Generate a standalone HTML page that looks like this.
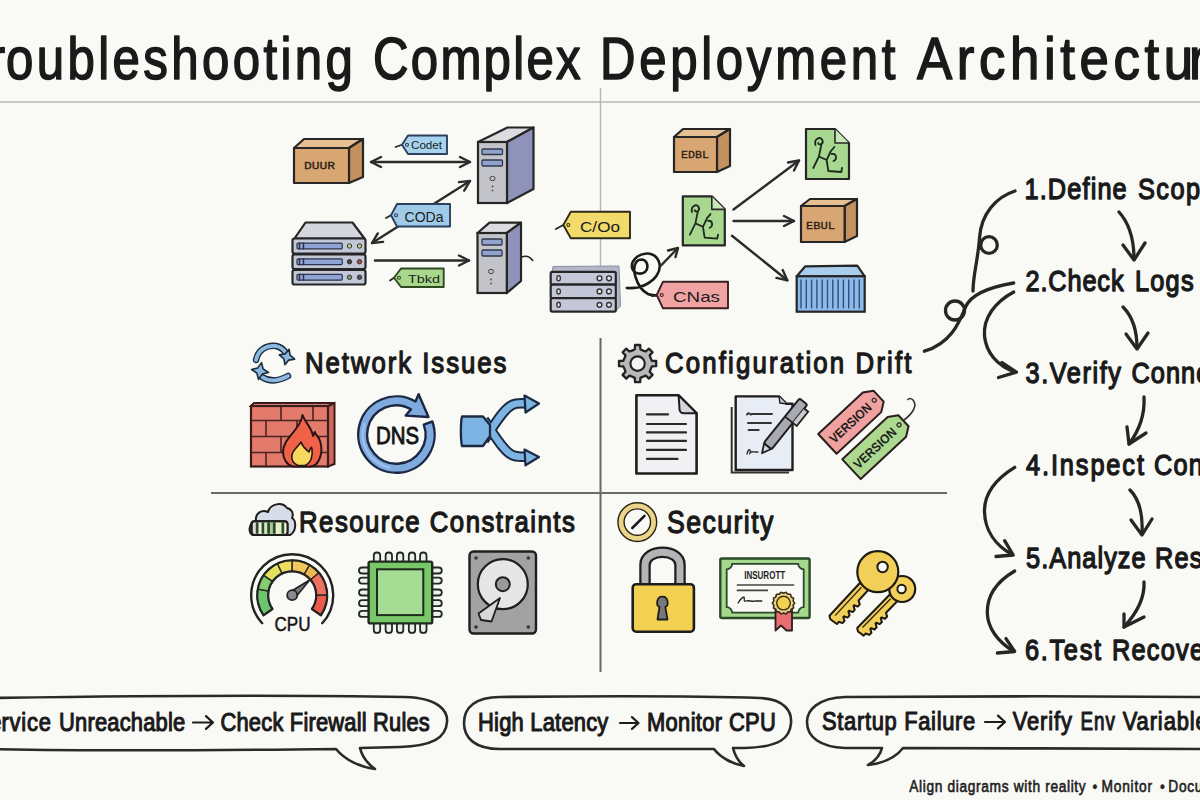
<!DOCTYPE html>
<html><head><meta charset="utf-8"><style>
html,body{margin:0;padding:0;background:#f9f9f6;}
svg{display:block;font-family:"Liberation Sans", sans-serif;}
</style></head><body>
<svg width="1200" height="800" viewBox="0 0 1200 800">
<rect width="1200" height="800" fill="#f9f9f6"/>
<line x1="0" y1="102" x2="1200" y2="102" stroke="#b9b9b6" stroke-width="1.6"/>
<line x1="600.5" y1="88" x2="600.5" y2="270" stroke="#b4b4b2" stroke-width="1.4"/>
<line x1="600.5" y1="338" x2="600.5" y2="672" stroke="#666" stroke-width="2"/>
<line x1="211" y1="493" x2="947" y2="493" stroke="#6a6a6a" stroke-width="2"/>
<text id="ft0" class="ft" transform="translate(-43.00,79) scale(0.82,1)" x="0" y="0" font-size="60" fill="#1a1a1a" textLength="58.76" lengthAdjust="spacing" stroke="#1a1a1a" stroke-width="1.6" stroke-linejoin="round">Tr</text>
<text id="ft1" class="ft" transform="translate(6.00,79) scale(0.82,1)" x="0" y="0" font-size="60" fill="#1a1a1a" textLength="423.01" lengthAdjust="spacing" stroke="#1a1a1a" stroke-width="1.6" stroke-linejoin="round">oubleshooting</text>
<text id="ft2" class="ft" transform="translate(373.00,79) scale(0.82,1)" x="0" y="0" font-size="60" fill="#1a1a1a" textLength="253.22" lengthAdjust="spacing" stroke="#1a1a1a" stroke-width="1.6" stroke-linejoin="round">Complex</text>
<text id="ft3" class="ft" transform="translate(600.00,79) scale(0.82,1)" x="0" y="0" font-size="60" fill="#1a1a1a" textLength="360.37" lengthAdjust="spacing" stroke="#1a1a1a" stroke-width="1.6" stroke-linejoin="round">Deployment</text>
<text id="ft4" class="ft" transform="translate(917.00,79) scale(0.88,1)" x="0" y="0" font-size="60" fill="#1a1a1a" textLength="313.90" lengthAdjust="spacing" stroke="#1a1a1a" stroke-width="1.6" stroke-linejoin="round">Architectu</text>
<text id="ft5" class="ft" transform="translate(1189.00,79) scale(0.88,1)" x="0" y="0" font-size="60" fill="#1a1a1a" textLength="53.68" lengthAdjust="spacing" stroke="#1a1a1a" stroke-width="1.6" stroke-linejoin="round">re</text>
<text id="ft6" class="ft" transform="translate(305.00,373) scale(0.86,1)" x="0" y="0" font-size="30" fill="#1a1a1a" textLength="234.19" lengthAdjust="spacing" stroke="#1a1a1a" stroke-width="1.3" stroke-linejoin="round">Network Issues</text>
<text id="ft7" class="ft" transform="translate(665.00,372.6) scale(0.86,1)" x="0" y="0" font-size="30" fill="#1a1a1a" textLength="286.61" lengthAdjust="spacing" stroke="#1a1a1a" stroke-width="1.3" stroke-linejoin="round">Configuration Drift</text>
<text id="ft8" class="ft" transform="translate(299.00,532) scale(0.86,1)" x="0" y="0" font-size="30" fill="#1a1a1a" textLength="320.74" lengthAdjust="spacing" stroke="#1a1a1a" stroke-width="1.3" stroke-linejoin="round">Resource Constraints</text>
<text id="ft9" class="ft" transform="translate(667.00,532.5) scale(0.86,1)" x="0" y="0" font-size="31" fill="#1a1a1a" textLength="123.71" lengthAdjust="spacing" stroke="#1a1a1a" stroke-width="1.3" stroke-linejoin="round">Security</text>
<text id="ft10" class="ft" transform="translate(1024.50,199) scale(0.86,1)" x="0" y="0" font-size="29.5" fill="#1a1a1a" textLength="118.86" lengthAdjust="spacing" stroke="#1a1a1a" stroke-width="1.35" stroke-linejoin="round">1.Define</text>
<text id="ft11" class="ft" transform="translate(1138.00,199) scale(0.86,1)" x="0" y="0" font-size="29.5" fill="#1a1a1a" textLength="90.31" lengthAdjust="spacing" stroke="#1a1a1a" stroke-width="1.35" stroke-linejoin="round">Scope</text>
<text id="ft12" class="ft" transform="translate(1025.50,291) scale(0.86,1)" x="0" y="0" font-size="29.5" fill="#1a1a1a" textLength="114.04" lengthAdjust="spacing" stroke="#1a1a1a" stroke-width="1.35" stroke-linejoin="round">2.Check</text>
<text id="ft13" class="ft" transform="translate(1135.00,291) scale(0.86,1)" x="0" y="0" font-size="29.5" fill="#1a1a1a" textLength="68.13" lengthAdjust="spacing" stroke="#1a1a1a" stroke-width="1.35" stroke-linejoin="round">Logs</text>
<text id="ft14" class="ft" transform="translate(1025.50,383) scale(0.86,1)" x="0" y="0" font-size="29.5" fill="#1a1a1a" textLength="111.10" lengthAdjust="spacing" stroke="#1a1a1a" stroke-width="1.35" stroke-linejoin="round">3.Verify</text>
<text id="ft15" class="ft" transform="translate(1131.50,383) scale(0.86,1)" x="0" y="0" font-size="29.5" fill="#1a1a1a" textLength="173.47" lengthAdjust="spacing" stroke="#1a1a1a" stroke-width="1.35" stroke-linejoin="round">Connectivity</text>
<text id="ft16" class="ft" transform="translate(1026.00,475) scale(0.86,1)" x="0" y="0" font-size="29.5" fill="#1a1a1a" textLength="137.15" lengthAdjust="spacing" stroke="#1a1a1a" stroke-width="1.35" stroke-linejoin="round">4.Inspect</text>
<text id="ft17" class="ft" transform="translate(1154.00,475) scale(0.86,1)" x="0" y="0" font-size="29.5" fill="#1a1a1a" textLength="107.98" lengthAdjust="spacing" stroke="#1a1a1a" stroke-width="1.35" stroke-linejoin="round">Configs</text>
<text id="ft18" class="ft" transform="translate(1026.00,567.6) scale(0.86,1)" x="0" y="0" font-size="29.5" fill="#1a1a1a" textLength="139.17" lengthAdjust="spacing" stroke="#1a1a1a" stroke-width="1.35" stroke-linejoin="round">5.Analyze</text>
<text id="ft19" class="ft" transform="translate(1155.00,567.6) scale(0.86,1)" x="0" y="0" font-size="29.5" fill="#1a1a1a" textLength="152.22" lengthAdjust="spacing" stroke="#1a1a1a" stroke-width="1.35" stroke-linejoin="round">Resources</text>
<text id="ft20" class="ft" transform="translate(1025.00,660) scale(0.86,1)" x="0" y="0" font-size="29.5" fill="#1a1a1a" textLength="88.46" lengthAdjust="spacing" stroke="#1a1a1a" stroke-width="1.35" stroke-linejoin="round">6.Test</text>
<text id="ft21" class="ft" transform="translate(1112.00,660) scale(0.86,1)" x="0" y="0" font-size="29.5" fill="#1a1a1a" textLength="134.51" lengthAdjust="spacing" stroke="#1a1a1a" stroke-width="1.35" stroke-linejoin="round">Recovery</text>
<text id="ft22" class="ft" transform="translate(-27.40,730.5) scale(0.86,1)" x="0" y="0" font-size="25.5" fill="#1a1a1a" textLength="33.67" lengthAdjust="spacing" stroke="#1a1a1a" stroke-width="1.1" stroke-linejoin="round">Se</text>
<text id="ft23" class="ft" transform="translate(1.40,730.5) scale(0.86,1)" x="0" y="0" font-size="25.5" fill="#1a1a1a" textLength="57.65" lengthAdjust="spacing" stroke="#1a1a1a" stroke-width="1.1" stroke-linejoin="round">rvice</text>
<text id="ft24" class="ft" transform="translate(59.00,730.5) scale(0.86,1)" x="0" y="0" font-size="25.5" fill="#1a1a1a" textLength="146.76" lengthAdjust="spacing" stroke="#1a1a1a" stroke-width="1.1" stroke-linejoin="round">Unreachable</text>
<text id="ft25" class="ft" transform="translate(220.50,730.5) scale(0.86,1)" x="0" y="0" font-size="25.5" fill="#1a1a1a" textLength="243.36" lengthAdjust="spacing" stroke="#1a1a1a" stroke-width="1.1" stroke-linejoin="round">Check Firewall Rules</text>
<text id="ft26" class="ft" transform="translate(478.00,731) scale(0.86,1)" x="0" y="0" font-size="25.5" fill="#1a1a1a" textLength="151.57" lengthAdjust="spacing" stroke="#1a1a1a" stroke-width="1.1" stroke-linejoin="round">High Latency</text>
<text id="ft27" class="ft" transform="translate(647.00,731) scale(0.86,1)" x="0" y="0" font-size="25.5" fill="#1a1a1a" textLength="149.85" lengthAdjust="spacing" stroke="#1a1a1a" stroke-width="1.1" stroke-linejoin="round">Monitor CPU</text>
<text id="ft28" class="ft" transform="translate(822.00,730) scale(0.86,1)" x="0" y="0" font-size="25.5" fill="#1a1a1a" textLength="178.18" lengthAdjust="spacing" stroke="#1a1a1a" stroke-width="1.1" stroke-linejoin="round">Startup Failure</text>
<text id="ft29" class="ft" transform="translate(1012.70,730) scale(0.86,1)" x="0" y="0" font-size="25.5" fill="#1a1a1a" textLength="68.83" lengthAdjust="spacing" stroke="#1a1a1a" stroke-width="1.1" stroke-linejoin="round">Verify</text>
<text id="ft30" class="ft" transform="translate(1080.50,730) scale(0.74,1)" x="0" y="0" font-size="25.5" fill="#1a1a1a" textLength="46.60" lengthAdjust="spacing" stroke="#1a1a1a" stroke-width="1.1" stroke-linejoin="round">Env</text>
<text id="ft31" class="ft" transform="translate(1122.70,730) scale(0.86,1)" x="0" y="0" font-size="25.5" fill="#1a1a1a" textLength="112.71" lengthAdjust="spacing" stroke="#1a1a1a" stroke-width="1.1" stroke-linejoin="round">Variables</text>
<text id="ft32" class="ft" transform="translate(909.25,792) scale(0.86,1)" x="0" y="0" font-size="16" fill="#222" textLength="205.17" lengthAdjust="spacing" stroke="#222" stroke-width="0.6" stroke-linejoin="round">Align diagrams with reality</text>
<text id="ft33" class="ft" transform="translate(1092.50,792) scale(0.86,1)" x="0" y="0" font-size="16" fill="#222" textLength="-6.63" lengthAdjust="spacing" stroke="#222" stroke-width="0.4" stroke-linejoin="round">•</text>
<text id="ft34" class="ft" transform="translate(1101.50,792) scale(0.86,1)" x="0" y="0" font-size="16" fill="#222" textLength="58.74" lengthAdjust="spacing" stroke="#222" stroke-width="0.6" stroke-linejoin="round">Monitor</text>
<text id="ft35" class="ft" transform="translate(1160.00,792) scale(0.86,1)" x="0" y="0" font-size="16" fill="#222" textLength="-8.95" lengthAdjust="spacing" stroke="#222" stroke-width="0.4" stroke-linejoin="round">•</text>
<text id="ft36" class="ft" transform="translate(1168.25,792) scale(0.86,1)" x="0" y="0" font-size="16" fill="#222" textLength="78.67" lengthAdjust="spacing" stroke="#222" stroke-width="0.6" stroke-linejoin="round">Document</text>
<path d="M-10 698 C120 696 300 695 405 697 C440 698 448 712 447 722 C446 738 432 746 400 747 L360 748 C362 756 368 764 375 769 C360 767 345 760 336 749 C250 750 80 751 -10 749" stroke="#2a2a2a" stroke-width="2.6" fill="none" stroke-linejoin="round" stroke-linecap="round"/>
<path d="M500 697 C600 696 700 696 760 698 C785 699 792 712 791 723 C790 738 780 747 745 748 L733 748 C735 756 739 762 744 766 C732 764 720 757 714 749 L500 749 C475 749 464 738 464 723 C464 707 476 697 500 697 Z" stroke="#2a2a2a" stroke-width="2.6" fill="none" stroke-linejoin="round" stroke-linecap="round"/>
<path d="M1210 697 C1100 696 950 696 845 697 C818 698 807 710 807 722 C807 737 820 747 845 748 L882 748 C880 756 875 761 868 765 C885 763 896 757 903 748 C1000 748 1120 749 1210 749" stroke="#2a2a2a" stroke-width="2.6" fill="none" stroke-linejoin="round" stroke-linecap="round"/>
<path d="M193 722.5 L213 722.5 M205.96 716.1 L213 722.5 L205.96 728.9" stroke="#1c1c1c" stroke-width="2.2" fill="none" stroke-linecap="round" stroke-linejoin="round"/>
<path d="M620 723 L638.5 723 M631.988 717.08 L638.5 723 L631.988 728.92" stroke="#1c1c1c" stroke-width="2.2" fill="none" stroke-linecap="round" stroke-linejoin="round"/>
<path d="M985 722 L1005 722 M997.96 715.6 L1005 722 L997.96 728.4" stroke="#1c1c1c" stroke-width="2.2" fill="none" stroke-linecap="round" stroke-linejoin="round"/>
<path d="M1119 212 C1128 222 1134 238 1134 259" stroke="#262626" stroke-width="3.3" fill="none" stroke-linecap="round" stroke-linejoin="round"/>
<path d="M1123 245 L1134 260 L1145 243" stroke="#262626" stroke-width="3.3" fill="none" stroke-linecap="round" stroke-linejoin="round"/>
<path d="M1123 307 C1132 316 1137 330 1137 348" stroke="#262626" stroke-width="3.3" fill="none" stroke-linecap="round" stroke-linejoin="round"/>
<path d="M1126 334 L1137 349 L1148 333" stroke="#262626" stroke-width="3.3" fill="none" stroke-linecap="round" stroke-linejoin="round"/>
<path d="M1144 397 C1145 415 1138 432 1129 444" stroke="#262626" stroke-width="3.3" fill="none" stroke-linecap="round" stroke-linejoin="round"/>
<path d="M1127 427 L1129 444 L1146 433" stroke="#262626" stroke-width="3.3" fill="none" stroke-linecap="round" stroke-linejoin="round"/>
<path d="M1130 490 C1140 500 1143 515 1142 534" stroke="#262626" stroke-width="3.3" fill="none" stroke-linecap="round" stroke-linejoin="round"/>
<path d="M1131 520 L1142 535 L1152 519" stroke="#262626" stroke-width="3.3" fill="none" stroke-linecap="round" stroke-linejoin="round"/>
<path d="M1144 582 C1145 600 1135 615 1124 627" stroke="#262626" stroke-width="3.3" fill="none" stroke-linecap="round" stroke-linejoin="round"/>
<path d="M1124 614 L1124 627 L1144 617" stroke="#262626" stroke-width="3.3" fill="none" stroke-linecap="round" stroke-linejoin="round"/>
<path d="M1015 191 C996 197 981 214 979.5 238 C978 260 973 275 973 291" stroke="#262626" stroke-width="3.3" fill="none" stroke-linecap="round" stroke-linejoin="round"/>
<circle cx="989" cy="245" r="8.3" stroke="#262626" stroke-width="3.3" fill="none" stroke-linecap="round" stroke-linejoin="round"/>
<path d="M1013.7 283 C990 287 971 294 965.5 307 C959 323 951 343 924.4 351.2" stroke="#262626" stroke-width="3.3" fill="none" stroke-linecap="round" stroke-linejoin="round"/>
<circle cx="955" cy="310.5" r="9.5" stroke="#262626" stroke-width="3.3" fill="none" stroke-linecap="round" stroke-linejoin="round"/>
<path d="M1013.7 292 C995 302 983 318 984.5 336 C986 352 997 366 1015 372" stroke="#262626" stroke-width="3.3" fill="none" stroke-linecap="round" stroke-linejoin="round"/>
<path d="M1002 362.5 L1016.4 372.2 L998.5 377.5" stroke="#262626" stroke-width="3.3" fill="none" stroke-linecap="round" stroke-linejoin="round"/>
<path d="M1014.7 467.3 C994 480 984 495 984.5 512 C985 530 995 545 1012 554.5" stroke="#262626" stroke-width="3.3" fill="none" stroke-linecap="round" stroke-linejoin="round"/>
<path d="M1004.6 540.7 L1013.2 555 L996 556.5" stroke="#262626" stroke-width="3.3" fill="none" stroke-linecap="round" stroke-linejoin="round"/>
<path d="M1014.7 571 C996 582 987 596 987.3 612.7 C987.6 628 998 642 1013.5 651" stroke="#262626" stroke-width="3.3" fill="none" stroke-linecap="round" stroke-linejoin="round"/>
<path d="M1006 638.6 L1014.7 651.5 L997.4 653" stroke="#262626" stroke-width="3.3" fill="none" stroke-linecap="round" stroke-linejoin="round"/>
<polygon points="294,148 304,139 363,139 349,148" fill="#e6bf92" stroke="#262626" stroke-width="2.2" stroke-linejoin="round"/>
<polygon points="349,148 363,139 363,177 349,183" fill="#c4915f" stroke="#262626" stroke-width="2.2" stroke-linejoin="round"/>
<rect x="294" y="148" width="55" height="35" fill="#d8a672" stroke="#262626" stroke-width="2.2" stroke-linejoin="round"/>
<text x="304" y="169" font-size="11" fill="#2a2018" textLength="31" lengthAdjust="spacingAndGlyphs" font-family="Liberation Mono" stroke="#2a2018" stroke-width="0.3">DUUR</text>
<path d="M371 162 L470 162" stroke="#2b2b2b" stroke-width="2.4" fill="none" stroke-linecap="round" stroke-linejoin="round"/>
<path d="M460.0 167.0 L470 162 L460.0 157.0" stroke="#2b2b2b" stroke-width="2.4" fill="none" stroke-linecap="round" stroke-linejoin="round"/>
<path d="M381.0 167.0 L371 162 L381.0 157.0" stroke="#2b2b2b" stroke-width="2.4" fill="none" stroke-linecap="round" stroke-linejoin="round"/>
<path d="M402 144.75 L395.5 147" stroke="#262626" stroke-width="1.8" fill="none" stroke-linecap="round"/>
<path d="M408 135.5 L447 135.5 L447 154 L408 154 L402 144.75 Z" fill="#a6d3ee" stroke="#2d3f5c" stroke-width="1.9" stroke-linejoin="round"/>
<circle cx="407" cy="144.75" r="1.5" fill="none" stroke="#2d3f5c" stroke-width="1.1"/>
<text x="411" y="149" font-size="11" fill="#1c1c22" textLength="31" lengthAdjust="spacingAndGlyphs" font-family="Liberation Sans">Codet</text>
<polygon points="478,142 507.5,127.5 533.5,127.5 507,142" fill="#dcdce0" stroke="#262626" stroke-width="2.2" stroke-linejoin="round"/>
<polygon points="507,142 533.5,127.5 533.5,189 507,203" fill="#8f93ba" stroke="#262626" stroke-width="2.2" stroke-linejoin="round"/>
<rect x="478" y="142" width="29" height="61" fill="#c3c4ca" stroke="#262626" stroke-width="2.2"/>
<rect x="482" y="149" width="20.5" height="5.5" rx="1" fill="#8fa3cc" stroke="#33384a" stroke-width="1.3"/>
<rect x="482" y="160" width="20.5" height="6" rx="1" fill="#8fa3cc" stroke="#33384a" stroke-width="1.3"/>
<ellipse cx="492.5" cy="178.5" rx="2.6" ry="2.2" fill="#bfc0c6" stroke="#444" stroke-width="1"/>
<circle cx="492.5" cy="186.5" r="1" fill="#555"/><circle cx="492.5" cy="190.5" r="0.9" fill="#555"/>
<path d="M372 243 L470 181" stroke="#2b2b2b" stroke-width="2.4" fill="none" stroke-linecap="round" stroke-linejoin="round"/>
<path d="M464.2 190.6 L470 181 L458.9 182.1" stroke="#2b2b2b" stroke-width="2.4" fill="none" stroke-linecap="round" stroke-linejoin="round"/>
<path d="M383.1 241.9 L372 243 L377.8 233.4" stroke="#2b2b2b" stroke-width="2.4" fill="none" stroke-linecap="round" stroke-linejoin="round"/>
<polygon points="294.5,238.5 305.5,222.5 352.5,222.5 364.5,238.5" fill="#d5d7df" stroke="#262626" stroke-width="2.2" stroke-linejoin="round"/>
<rect x="292.5" y="238.5" width="73.0" height="15.0" rx="2" fill="#c3c8d8" stroke="#262626" stroke-width="2.2"/>
<rect x="297.0" y="243.2" width="45.26" height="5.6" rx="1" fill="#8ea4d6" stroke="#2e3248" stroke-width="1.2"/>
<line x1="299.5" y1="242.5" x2="299.5" y2="249.5" stroke="#2e3248" stroke-width="1.5"/><line x1="303.5" y1="242.5" x2="303.5" y2="249.5" stroke="#2e3248" stroke-width="1.5"/>
<circle cx="359.5" cy="246.0" r="2.2" fill="#b9d07a" stroke="#333" stroke-width="1"/>
<circle cx="349.5" cy="246.0" r="2.2" fill="#b9d07a" stroke="#333" stroke-width="1"/>
<rect x="292.5" y="254.5" width="73.0" height="14.5" rx="2" fill="#c3c8d8" stroke="#262626" stroke-width="2.2"/>
<rect x="297.0" y="258.95" width="45.26" height="5.6" rx="1" fill="#8ea4d6" stroke="#2e3248" stroke-width="1.2"/>
<line x1="299.5" y1="258.25" x2="299.5" y2="265.25" stroke="#2e3248" stroke-width="1.5"/><line x1="303.5" y1="258.25" x2="303.5" y2="265.25" stroke="#2e3248" stroke-width="1.5"/>
<circle cx="359.5" cy="261.75" r="2.2" fill="#b04a3a" stroke="#333" stroke-width="1"/>
<circle cx="349.5" cy="261.75" r="2.2" fill="#444" stroke="#333" stroke-width="1"/>
<rect x="292.5" y="270" width="73.0" height="14.5" rx="2" fill="#c3c8d8" stroke="#262626" stroke-width="2.2"/>
<rect x="297.0" y="274.45" width="45.26" height="5.6" rx="1" fill="#8ea4d6" stroke="#2e3248" stroke-width="1.2"/>
<line x1="299.5" y1="273.75" x2="299.5" y2="280.75" stroke="#2e3248" stroke-width="1.5"/><line x1="303.5" y1="273.75" x2="303.5" y2="280.75" stroke="#2e3248" stroke-width="1.5"/>
<circle cx="359.5" cy="277.25" r="2.2" fill="#555" stroke="#333" stroke-width="1"/>
<circle cx="349.5" cy="277.25" r="2.2" fill="#7a9a7a" stroke="#333" stroke-width="1"/>
<path d="M391 215.25 L386 218" stroke="#262626" stroke-width="1.8" fill="none" stroke-linecap="round"/>
<path d="M397 204 L450 204 L450 226.5 L397 226.5 L391 215.25 Z" fill="#9fcbe8" stroke="#2d3f5c" stroke-width="1.9" stroke-linejoin="round"/>
<circle cx="396" cy="215.25" r="1.5" fill="none" stroke="#2d3f5c" stroke-width="1.1"/>
<text x="404.5" y="221.5" font-size="14" fill="#1c1c22" textLength="39" lengthAdjust="spacingAndGlyphs" font-family="Liberation Sans">CODa</text>
<path d="M375 260.5 L469 260.5" stroke="#2b2b2b" stroke-width="2.4" fill="none" stroke-linecap="round" stroke-linejoin="round"/>
<path d="M459.0 265.5 L469 260.5 L459.0 255.5" stroke="#2b2b2b" stroke-width="2.4" fill="none" stroke-linecap="round" stroke-linejoin="round"/>
<path d="M394 277.75 L390 280.5" stroke="#262626" stroke-width="1.8" fill="none" stroke-linecap="round"/>
<path d="M401 268.5 L443.7 268.5 L443.7 287 L401 287 L394 277.75 Z" fill="#a9d78c" stroke="#2d4a22" stroke-width="1.9" stroke-linejoin="round"/>
<circle cx="399" cy="277.75" r="1.5" fill="none" stroke="#2d4a22" stroke-width="1.1"/>
<text x="408" y="283" font-size="11.5" fill="#1c1c22" textLength="32" lengthAdjust="spacingAndGlyphs" font-family="Liberation Sans">Tbkd</text>
<polygon points="477.5,233 489.5,222.7 521,222.7 506.8,233" fill="#dcdce0" stroke="#262626" stroke-width="2.2" stroke-linejoin="round"/>
<polygon points="506.8,233 521,222.7 521,281 506.8,293" fill="#8f93ba" stroke="#262626" stroke-width="2.2" stroke-linejoin="round"/>
<rect x="477.5" y="233" width="29.30000000000001" height="60" fill="#c3c4ca" stroke="#262626" stroke-width="2.2"/>
<rect x="482" y="239" width="20" height="6" rx="1" fill="#8fa3cc" stroke="#33384a" stroke-width="1.3"/>
<rect x="482" y="250" width="20" height="6" rx="1" fill="#8fa3cc" stroke="#33384a" stroke-width="1.3"/>
<ellipse cx="491" cy="271.5" rx="2.6" ry="2.2" fill="#bfc0c6" stroke="#444" stroke-width="1"/>
<circle cx="491" cy="279.5" r="1" fill="#555"/><circle cx="491" cy="283.5" r="0.9" fill="#555"/>
<path d="M521.7 257 C527 255 531 258 533 261" stroke="#262626" stroke-width="1.6" fill="none"/>
<path d="M563.3 225.0 L555.8 229" stroke="#262626" stroke-width="1.8" fill="none" stroke-linecap="round"/>
<path d="M570.8 211.7 L630 211.7 L630 238.3 L570.8 238.3 L563.3 225.0 Z" fill="#f2db6a" stroke="#2d2a18" stroke-width="1.9" stroke-linejoin="round"/>
<circle cx="568.3" cy="225.0" r="1.5" fill="none" stroke="#2d2a18" stroke-width="1.1"/>
<text x="580" y="231.5" font-size="15" fill="#1c1c22" textLength="40" lengthAdjust="spacingAndGlyphs" font-family="Liberation Sans">C/Oo</text>
<path d="M552 272 L553 266.5 L619 266 L620.5 306 L615.8 311" fill="#b3b7c8" stroke="#8a8ea0" stroke-width="1"/>
<rect x="550.7" y="271.9" width="65.1" height="12.800000000000011" rx="1.5" fill="#c4c7d8" stroke="#262626" stroke-width="2.2"/>
<ellipse cx="558.6" cy="278.29999999999995" rx="1.8" ry="2.6" fill="#ddd" stroke="#333" stroke-width="1.3"/>
<circle cx="599.5" cy="278.29999999999995" r="2.4" fill="#e6e6e6" stroke="#333" stroke-width="1.4"/>
<circle cx="609" cy="278.29999999999995" r="2.4" fill="#e6e6e6" stroke="#333" stroke-width="1.4"/>
<rect x="550.7" y="284.7" width="65.1" height="13.400000000000034" rx="1.5" fill="#c4c7d8" stroke="#262626" stroke-width="2.2"/>
<ellipse cx="558.6" cy="291.4" rx="1.8" ry="2.6" fill="#ddd" stroke="#333" stroke-width="1.3"/>
<circle cx="599.5" cy="291.4" r="2.4" fill="#e6e6e6" stroke="#333" stroke-width="1.4"/>
<circle cx="609" cy="291.4" r="2.4" fill="#e6e6e6" stroke="#333" stroke-width="1.4"/>
<rect x="550.7" y="298.1" width="65.1" height="13.5" rx="1.5" fill="#c4c7d8" stroke="#262626" stroke-width="2.2"/>
<ellipse cx="558.6" cy="304.85" rx="1.8" ry="2.6" fill="#ddd" stroke="#333" stroke-width="1.3"/>
<circle cx="599.5" cy="304.85" r="2.4" fill="#e6e6e6" stroke="#333" stroke-width="1.4"/>
<circle cx="609" cy="304.85" r="2.4" fill="#e6e6e6" stroke="#333" stroke-width="1.4"/>
<path d="M626.8 288 C633 288.5 640 287.5 646 284.5 C655 280 661 272 659.5 264 C658 256 651 252.5 645 253.8 C637 255 631 261 632 267.5 C633 273 640 275.5 645 272 C649 268.5 648 260 641.5 259.5 C635 259.5 632.5 268 635.5 277 C638 285 642 291 648 294 C653 296 659 295.5 664 295.2" stroke="#1a1a1a" stroke-width="2.6" fill="none" stroke-linecap="round" stroke-linejoin="round"/>
<path d="M660.5 266 L677.5 248.5" stroke="#2b2b2b" stroke-width="2.4" fill="none" stroke-linecap="round" stroke-linejoin="round"/><path d="M668 250.5 L678 248 L675.5 257" stroke="#2b2b2b" stroke-width="2.4" fill="none" stroke-linecap="round" stroke-linejoin="round"/>
<path d="M656.7 295.0 L652 296" stroke="#262626" stroke-width="1.8" fill="none" stroke-linecap="round"/>
<path d="M663 281.7 L728 281.7 L728 308.3 L663 308.3 L656.7 295.0 Z" fill="#f1a3a3" stroke="#3a2020" stroke-width="1.9" stroke-linejoin="round"/>
<circle cx="661.7" cy="295.0" r="1.5" fill="none" stroke="#3a2020" stroke-width="1.1"/>
<text x="673" y="301.5" font-size="15" fill="#1c1c22" textLength="47" lengthAdjust="spacingAndGlyphs" font-family="Liberation Sans">CNas</text>
<path d="M682.8 196.4 L711.8 196.4 L724.8 209.4 L724.8 245.4 L682.8 245.4 Z" fill="#a8d88f" stroke="#262626" stroke-width="2.2" stroke-linejoin="round"/>
<path d="M711.8 196.4 L711.8 209.4 L724.8 209.4" fill="#c9e8b8" stroke="#262626" stroke-width="1.6" stroke-linejoin="round"/>
<path d="M692.04 212.08 C690.3599999999999 206.20000000000002 696.24 203.26000000000002 698.76 207.18 C700.4399999999999 211.1 695.4 213.06 694.56 210.12 M697.92 211.1 L695.4 223.35000000000002 L689.9399999999999 234.62 M695.4 223.35000000000002 L702.9599999999999 226.78 L707.16 217.96 L710.52 214.04000000000002 M702.9599999999999 226.78 L704.64 237.56 L717.24 238.54000000000002 L718.0799999999999 234.62 M708.0 220.9 C712.1999999999999 219.92000000000002 713.88 225.8 709.68 227.76" stroke="#1e2a1e" stroke-width="1.8" fill="none" stroke-linecap="round" stroke-linejoin="round"/>
<polygon points="674,137 683,129 730,129 717,137" fill="#e6bf92" stroke="#262626" stroke-width="2.2" stroke-linejoin="round"/>
<polygon points="717,137 730,129 730,166 717,172" fill="#c4915f" stroke="#262626" stroke-width="2.2" stroke-linejoin="round"/>
<rect x="674" y="137" width="43" height="35" fill="#d8a672" stroke="#262626" stroke-width="2.2" stroke-linejoin="round"/>
<text x="681" y="158" font-size="11" fill="#2a2018" textLength="28" lengthAdjust="spacingAndGlyphs" font-family="Liberation Mono" stroke="#2a2018" stroke-width="0.3">EDBL</text>
<path d="M733.5 209.5 L799 160.5" stroke="#2b2b2b" stroke-width="2.4" fill="none" stroke-linecap="round" stroke-linejoin="round"/>
<path d="M794.0 170.5 L799 160.5 L788.0 162.5" stroke="#2b2b2b" stroke-width="2.4" fill="none" stroke-linecap="round" stroke-linejoin="round"/>
<path d="M733.5 221 L794 221" stroke="#2b2b2b" stroke-width="2.4" fill="none" stroke-linecap="round" stroke-linejoin="round"/>
<path d="M784.0 226.0 L794 221 L784.0 216.0" stroke="#2b2b2b" stroke-width="2.4" fill="none" stroke-linecap="round" stroke-linejoin="round"/>
<path d="M732 235.7 L787.3 280.3" stroke="#2b2b2b" stroke-width="2.4" fill="none" stroke-linecap="round" stroke-linejoin="round"/>
<path d="M776.4 277.9 L787.3 280.3 L782.7 270.1" stroke="#2b2b2b" stroke-width="2.4" fill="none" stroke-linecap="round" stroke-linejoin="round"/>
<path d="M806 129 L835 129 L849 143 L849 179 L806 179 Z" fill="#a8d88f" stroke="#262626" stroke-width="2.2" stroke-linejoin="round"/>
<path d="M835 129 L835 143 L849 143" fill="#c9e8b8" stroke="#262626" stroke-width="1.6" stroke-linejoin="round"/>
<path d="M815.46 145.0 C813.74 139.0 819.76 136.0 822.34 140.0 C824.06 144.0 818.9 146.0 818.04 143.0 M821.48 144.0 L818.9 156.5 L813.31 168.0 M818.9 156.5 L826.64 160.0 L830.94 151.0 L834.38 147.0 M826.64 160.0 L828.36 171.0 L841.26 172.0 L842.12 168.0 M831.8 154.0 C836.1 153.0 837.82 159.0 833.52 161.0" stroke="#1e2a1e" stroke-width="1.8" fill="none" stroke-linecap="round" stroke-linejoin="round"/>
<polygon points="801,206 810,199 857,199 844.6,206" fill="#e6bf92" stroke="#262626" stroke-width="2.2" stroke-linejoin="round"/>
<polygon points="844.6,206 857,199 857,236 844.6,242" fill="#c4915f" stroke="#262626" stroke-width="2.2" stroke-linejoin="round"/>
<rect x="801" y="206" width="43.60000000000002" height="36" fill="#d8a672" stroke="#262626" stroke-width="2.2" stroke-linejoin="round"/>
<text x="806" y="228.5" font-size="11" fill="#2a2018" textLength="29" lengthAdjust="spacingAndGlyphs" font-family="Liberation Mono" stroke="#2a2018" stroke-width="0.3">EBUL</text>
<polygon points="796.7,276.3 805.3,266.3 857.3,265.7 864.7,276.3" fill="#a9cdec" stroke="#262626" stroke-width="2.2" stroke-linejoin="round"/>
<rect x="796.7" y="276.3" width="68" height="35.4" fill="#8dbae6" stroke="#262626" stroke-width="2.2"/>
<line x1="801.0" y1="279.5" x2="801.0" y2="308.5" stroke="#2d4f86" stroke-width="1.4"/>
<line x1="806.3" y1="279.5" x2="806.3" y2="308.5" stroke="#2d4f86" stroke-width="1.4"/>
<line x1="811.6" y1="279.5" x2="811.6" y2="308.5" stroke="#2d4f86" stroke-width="1.4"/>
<line x1="816.9" y1="279.5" x2="816.9" y2="308.5" stroke="#2d4f86" stroke-width="1.4"/>
<line x1="822.2" y1="279.5" x2="822.2" y2="308.5" stroke="#2d4f86" stroke-width="1.4"/>
<line x1="827.5" y1="279.5" x2="827.5" y2="308.5" stroke="#2d4f86" stroke-width="1.4"/>
<line x1="832.8" y1="279.5" x2="832.8" y2="308.5" stroke="#2d4f86" stroke-width="1.4"/>
<line x1="838.1" y1="279.5" x2="838.1" y2="308.5" stroke="#2d4f86" stroke-width="1.4"/>
<line x1="843.4" y1="279.5" x2="843.4" y2="308.5" stroke="#2d4f86" stroke-width="1.4"/>
<line x1="848.7" y1="279.5" x2="848.7" y2="308.5" stroke="#2d4f86" stroke-width="1.4"/>
<line x1="854.0" y1="279.5" x2="854.0" y2="308.5" stroke="#2d4f86" stroke-width="1.4"/>
<line x1="859.3" y1="279.5" x2="859.3" y2="308.5" stroke="#2d4f86" stroke-width="1.4"/>
<path d="M256 360 C258 350 266 345 276 346 C281 347 284 350 286 353" stroke="#1d2a3c" stroke-width="6.5" fill="none" stroke-linecap="round"/>
<path d="M256 360 C258 350 266 345 276 346 C281 347 284 350 286 353" stroke="#8cb9e2" stroke-width="3.8" fill="none" stroke-linecap="round"/>
<path d="M262 377 C268 381 277 382 288 376" stroke="#1d2a3c" stroke-width="6.5" fill="none" stroke-linecap="round"/>
<path d="M262 377 C268 381 277 382 288 376" stroke="#8cb9e2" stroke-width="3.8" fill="none" stroke-linecap="round"/>
<polygon points="294.7,359.1 288.8,360.1 284.9,364.7 283.9,358.8 279.3,354.9 285.2,353.9 289.1,349.3 290.1,355.2" fill="#8cb9e2" stroke="#1d2a3c" stroke-width="1.6" stroke-linejoin="round"/>
<polygon points="268.4,372.5 262.2,374.1 258.5,379.4 256.9,373.2 251.6,369.5 257.8,367.9 261.5,362.6 263.1,368.8" fill="#8cb9e2" stroke="#1d2a3c" stroke-width="1.6" stroke-linejoin="round"/>
<polygon points="328.0,406.0 334.5,403.0 334.5,464.0 328.0,466.5" fill="#d06a5c" stroke="#3a1c1c" stroke-width="2"/>
<polygon points="251.0,406.0 254.0,403.0 334.5,403.0 328.0,406.0" fill="#e89080" stroke="#3a1c1c" stroke-width="2"/>
<rect x="251" y="406" width="77" height="60.5" fill="#e27b6c" stroke="#3a1c1c" stroke-width="2.2"/>
<line x1="251" y1="420.5" x2="328" y2="420.5" stroke="#4a2222" stroke-width="1.6"/>
<line x1="251" y1="436.5" x2="328" y2="436.5" stroke="#4a2222" stroke-width="1.6"/>
<line x1="251" y1="452.5" x2="328" y2="452.5" stroke="#4a2222" stroke-width="1.6"/>
<line x1="281" y1="406" x2="281" y2="420.5" stroke="#4a2222" stroke-width="1.6"/>
<line x1="313" y1="406" x2="313" y2="420.5" stroke="#4a2222" stroke-width="1.6"/>
<line x1="266" y1="420.5" x2="266" y2="436.5" stroke="#4a2222" stroke-width="1.6"/>
<line x1="297" y1="420.5" x2="297" y2="436.5" stroke="#4a2222" stroke-width="1.6"/>
<line x1="281" y1="436.5" x2="281" y2="452.5" stroke="#4a2222" stroke-width="1.6"/>
<line x1="313" y1="436.5" x2="313" y2="452.5" stroke="#4a2222" stroke-width="1.6"/>
<line x1="266" y1="452.5" x2="266" y2="466.5" stroke="#4a2222" stroke-width="1.6"/>
<line x1="297" y1="452.5" x2="297" y2="466.5" stroke="#4a2222" stroke-width="1.6"/>
<path d="M302.5 415 C306 424 312 428 313 436 C315 432 315 430 315.5 434 C322 440 323 452 319 460 C317 464 314 466.5 310 466.5 L293 466.5 C287 465 283 459 283 452 C283 443 290 437 295 430 C299 425 302 420 302.5 415 Z" fill="#f06248" stroke="#2a1414" stroke-width="2" stroke-linejoin="round"/>
<path d="M301 442 C303 448 307 450 309 452 C311 447 311 446 312 449 C313 456 311 463 305 465.5 L298 465.5 C293 464 291 459 292 455 C293 450 297 448 301 442 Z" fill="#f6d85c" stroke="#2a1414" stroke-width="1.6" stroke-linejoin="round"/>
<path d="M432.3 421.5 A38.2 38.2 0 1 1 415.5 401.5 L418.6 394.2 L428.5 417 L405.7 415.6 L411.0 409.3 A29.2 29.2 0 1 0 423.8 424.6 Z" fill="#7eaae0" stroke="#1c2742" stroke-width="2.4" stroke-linejoin="round"/>
<path d="M390.5 467.8 A33.7 33.7 0 0 1 364.7 423.1" stroke="#a9c8ee" stroke-width="2.5" fill="none" opacity="0.7"/>
<text x="397.5" y="444.3" font-size="24" text-anchor="middle" fill="#141414" textLength="43" lengthAdjust="spacingAndGlyphs" stroke="#141414" stroke-width="0.9">DNS</text>
<path d="M484 440 C493 428 502 410 512 405 C516 403 520 403 526 403.5" stroke="#1b2a40" stroke-width="10.5" fill="none"/>
<path d="M484 420 C493 432 502 450 512 455 C516 457 520 457 526 456.5" stroke="#1b2a40" stroke-width="10.5" fill="none"/>
<path d="M484 440 C493 428 502 410 512 405 C516 403 520 403 526 403.5" stroke="#7db4e3" stroke-width="6.6" fill="none"/>
<path d="M484 420 C493 432 502 450 512 455 C516 457 520 457 526 456.5" stroke="#7db4e3" stroke-width="6.6" fill="none"/>
<path d="M462 416.5 L483 416.5 L490 425 L490 436 L483 446 L462 446 C460.5 440 460.5 422 462 416.5 Z" fill="#7db4e3" stroke="#1b2a40" stroke-width="2.3" stroke-linejoin="round"/>
<polygon points="524.5,395.5 539.0,403.5 525.5,412.5" fill="#7db4e3" stroke="#1b2a40" stroke-width="2.2" stroke-linejoin="round"/>
<polygon points="524.5,449.5 539.0,457.0 525.5,465.3" fill="#7db4e3" stroke="#1b2a40" stroke-width="2.2" stroke-linejoin="round"/>
<polygon points="633.1,350.1 634.8,349.3 635.0,345.0 640.2,345.0 640.4,349.3 642.1,350.1 643.9,350.9 645.8,351.5 648.9,348.6 652.6,352.3 649.7,355.4 650.3,357.3 651.1,359.1 651.9,360.8 656.2,361.0 656.2,366.2 651.9,366.4 651.1,368.1 650.3,369.9 649.7,371.8 652.6,374.9 648.9,378.6 645.8,375.7 643.9,376.3 642.1,377.1 640.4,377.9 640.2,382.2 635.0,382.2 634.8,377.9 633.1,377.1 631.3,376.3 629.4,375.7 626.3,378.6 622.6,374.9 625.5,371.8 624.9,369.9 624.1,368.1 623.3,366.4 619.0,366.2 619.0,361.0 623.3,360.8 624.1,359.1 624.9,357.3 625.5,355.4 622.6,352.3 626.3,348.6 629.4,351.5 631.3,350.9" fill="#b9b9b9" stroke="#222" stroke-width="2.3" stroke-linejoin="round"/>
<circle cx="637.6" cy="363.6" r="7.2" fill="#f4f4f2" stroke="#222" stroke-width="2.2"/>
<path d="M636.4 395.3 L678.6 395.3 L696.6 413.3 L696.6 473.5 L636.4 473.5 Z" fill="#f1f1f3" stroke="#1e1e1e" stroke-width="2.6" stroke-linejoin="round"/>
<path d="M678.6 395.3 L679.6 410.3 Q680.6 413.3 683.6 413.3 L696.6 413.3 Z" fill="#d3d5de" stroke="#1e1e1e" stroke-width="2" stroke-linejoin="round"/>
<line x1="647" y1="414.4" x2="668" y2="414.4" stroke="#2a2a2a" stroke-width="2.2" stroke-linecap="round"/>
<line x1="647" y1="424" x2="686" y2="424" stroke="#2a2a2a" stroke-width="2.2" stroke-linecap="round"/>
<line x1="647" y1="432.4" x2="686" y2="432.4" stroke="#2a2a2a" stroke-width="2.2" stroke-linecap="round"/>
<line x1="647" y1="440.9" x2="686" y2="440.9" stroke="#2a2a2a" stroke-width="2.2" stroke-linecap="round"/>
<line x1="647" y1="449.9" x2="686" y2="449.9" stroke="#2a2a2a" stroke-width="2.2" stroke-linecap="round"/>
<line x1="647" y1="458.9" x2="677.5" y2="458.9" stroke="#2a2a2a" stroke-width="2.2" stroke-linecap="round"/>
<path d="M731.7 407 L731.7 472.4 L789 472.4" fill="none" stroke="#333" stroke-width="2"/>
<path d="M735.7 396.4 L779 396.4 L786.3 403.7 L792.5 403.7 L792.5 470 L735.7 470 Z" fill="#e8ecf4" stroke="#1e1e1e" stroke-width="2.4" stroke-linejoin="round"/>
<path d="M779 396.4 L780 403 L786.3 403.7" fill="#d0d4de" stroke="#1e1e1e" stroke-width="1.4"/>
<path d="M747 414.4 C749 411 750 416 752 414 L772 414" stroke="#333" stroke-width="2" fill="none" stroke-linecap="round"/>
<line x1="748" y1="423" x2="771" y2="423" stroke="#333" stroke-width="2" stroke-linecap="round"/>
<line x1="748.6" y1="430" x2="758.7" y2="430" stroke="#333" stroke-width="2" stroke-linecap="round"/>
<path d="M747 454 C748 449 751 448 750 453 C752 451 753 452 755 452 L758 452" stroke="#333" stroke-width="1.4" fill="none" stroke-linecap="round"/>
<g transform="translate(762,453.2) rotate(-51.2)">
<path d="M0 0 L9 -4.5 L9 4.5 Z" fill="#d8d8dc" stroke="#1e1e1e" stroke-width="1.8" stroke-linejoin="round"/>
<rect x="9" y="-5" width="57.278856803501014" height="10" rx="2" fill="#a9a9b2" stroke="#1e1e1e" stroke-width="2"/>
<line x1="42.95289121817063" y1="-5" x2="42.95289121817063" y2="5" stroke="#1e1e1e" stroke-width="1.8"/>
<path d="M42.95289121817063 5 L42.95289121817063 10 L61.278856803501014 10 L61.278856803501014 5" fill="#c9c9cf" stroke="#1e1e1e" stroke-width="1.8"/>
</g>
<g transform="translate(853,420) rotate(-43)">
<path d="M-35.0 -13.5 L26.0 -13.5 L35.0 -7.5 L35.0 7.5 L26.0 13.5 L-35.0 13.5 Z" fill="#f1a2a0" stroke="#2a1e1e" stroke-width="2" stroke-linejoin="round"/>
<circle cx="29.0" cy="0" r="2" fill="none" stroke="#333" stroke-width="1.3"/>
<text x="-30.0" y="5" font-size="13" fill="#1e1e1e" textLength="52" lengthAdjust="spacingAndGlyphs" font-weight="bold">VERSION</text>
</g>
<g transform="translate(877.5,445) rotate(-43)">
<path d="M-35.5 -13.5 L26.5 -13.5 L35.5 -7.5 L35.5 7.5 L26.5 13.5 L-35.5 13.5 Z" fill="#acd98f" stroke="#2a1e1e" stroke-width="2" stroke-linejoin="round"/>
<circle cx="29.5" cy="0" r="2" fill="none" stroke="#333" stroke-width="1.3"/>
<text x="-30.5" y="5" font-size="13" fill="#1e1e1e" textLength="53" lengthAdjust="spacingAndGlyphs" font-weight="bold">VERSION</text>
</g>
<path d="M904 420 C912 414 918 406 913 400 C911 398 909 398 907.5 400" stroke="#333" stroke-width="1.6" fill="none"/>
<path d="M253 535 C248 534 248 523 256 521 C255 513 262 509 268 512 C270 504 282 501 287 508 C292 509 294 514 292 518 C297 521 296 532 290 535 Z" fill="#d6dce8" stroke="#1e1e1e" stroke-width="2" stroke-linejoin="round"/>
<rect x="251.5" y="521.3" width="36" height="13.6" rx="3" fill="#cfe3b8" stroke="#1e1e1e" stroke-width="2"/>
<rect x="253.0" y="522.5" width="2.9" height="11.2" fill="#e8d8d8"/>
<rect x="255.8" y="522.5" width="2.9" height="11.2" fill="#2e4a2a"/>
<rect x="258.7" y="522.5" width="2.9" height="11.2" fill="#f0f2e8"/>
<rect x="261.6" y="522.5" width="2.9" height="11.2" fill="#2e4a2a"/>
<rect x="264.4" y="522.5" width="2.9" height="11.2" fill="#cfeac0"/>
<rect x="267.2" y="522.5" width="2.9" height="11.2" fill="#2e4a2a"/>
<rect x="270.1" y="522.5" width="2.9" height="11.2" fill="#a8c898"/>
<rect x="272.9" y="522.5" width="2.9" height="11.2" fill="#2e4a2a"/>
<rect x="275.8" y="522.5" width="2.9" height="11.2" fill="#eef0c8"/>
<rect x="278.6" y="522.5" width="2.9" height="11.2" fill="#e8eec0"/>
<rect x="281.5" y="522.5" width="2.9" height="11.2" fill="#2e4a2a"/>
<rect x="284.4" y="522.5" width="2.9" height="11.2" fill="#f0f0e0"/>
<rect x="251.5" y="521.3" width="36" height="13.6" rx="3" fill="none" stroke="#1e1e1e" stroke-width="2"/>
<path d="M262.2 623.2 A41 41 0 1 1 322.2 623.2" stroke="#222" stroke-width="2.4" fill="none" stroke-linecap="round"/>
<path d="M263.5 615.3 A35 35 0 0 1 257.7 589.1 L268.6 591.0 A24 24 0 0 0 272.5 609.0 Z" fill="#6cc46c" stroke="#2a2a2a" stroke-width="1.4" stroke-linejoin="round"/>
<path d="M257.7 589.1 A35 35 0 0 1 263.5 575.1 L272.5 581.4 A24 24 0 0 0 268.6 591.0 Z" fill="#86cc6c" stroke="#2a2a2a" stroke-width="1.4" stroke-linejoin="round"/>
<path d="M263.5 575.1 A35 35 0 0 1 277.4 563.5 L282.1 573.4 A24 24 0 0 0 272.5 581.4 Z" fill="#e4e060" stroke="#2a2a2a" stroke-width="1.4" stroke-linejoin="round"/>
<path d="M277.4 563.5 A35 35 0 0 1 292.2 560.2 L292.2 571.2 A24 24 0 0 0 282.1 573.4 Z" fill="#f0dc5c" stroke="#2a2a2a" stroke-width="1.4" stroke-linejoin="round"/>
<path d="M292.2 560.2 A35 35 0 0 1 309.7 564.9 L304.2 574.4 A24 24 0 0 0 292.2 571.2 Z" fill="#f4c858" stroke="#2a2a2a" stroke-width="1.4" stroke-linejoin="round"/>
<path d="M309.7 564.9 A35 35 0 0 1 319.0 572.7 L310.6 579.8 A24 24 0 0 0 304.2 574.4 Z" fill="#f0b850" stroke="#2a2a2a" stroke-width="1.4" stroke-linejoin="round"/>
<path d="M319.0 572.7 A35 35 0 0 1 327.2 595.2 L316.2 595.2 A24 24 0 0 0 310.6 579.8 Z" fill="#f07060" stroke="#2a2a2a" stroke-width="1.4" stroke-linejoin="round"/>
<path d="M327.2 595.2 A35 35 0 0 1 320.9 615.3 L311.9 609.0 A24 24 0 0 0 316.2 595.2 Z" fill="#ec5a4a" stroke="#2a2a2a" stroke-width="1.4" stroke-linejoin="round"/>
<path d="M263.5 615.3 A35 35 0 1 1 320.9 615.3 L311.9 609.0 A24 24 0 1 0 272.5 609.0 Z" fill="none" stroke="#222" stroke-width="2.2" stroke-linejoin="round"/>
<polygon points="294.8,598.2 309.7,580.0 289.6,592.2" fill="#7a7a80" stroke="#222" stroke-width="1.6" stroke-linejoin="round"/>
<circle cx="292.2" cy="595.2" r="5" fill="#8a8a90" stroke="#222" stroke-width="1.8"/>
<text x="274.5" y="631.3" font-size="21" fill="#141414" textLength="36" lengthAdjust="spacingAndGlyphs" stroke="#141414" stroke-width="0.5">CPU</text>
<rect x="373.8" y="552.5" width="6.4" height="11" rx="3" fill="#eee" stroke="#1e2a1e" stroke-width="1.8"/>
<rect x="373.8" y="621.5" width="6.4" height="11.4" rx="3" fill="#eee" stroke="#1e2a1e" stroke-width="1.8"/>
<rect x="385.6" y="552.5" width="6.4" height="11" rx="3" fill="#eee" stroke="#1e2a1e" stroke-width="1.8"/>
<rect x="385.6" y="621.5" width="6.4" height="11.4" rx="3" fill="#eee" stroke="#1e2a1e" stroke-width="1.8"/>
<rect x="396.90000000000003" y="552.5" width="6.4" height="11" rx="3" fill="#eee" stroke="#1e2a1e" stroke-width="1.8"/>
<rect x="396.90000000000003" y="621.5" width="6.4" height="11.4" rx="3" fill="#eee" stroke="#1e2a1e" stroke-width="1.8"/>
<rect x="408.8" y="552.5" width="6.4" height="11" rx="3" fill="#eee" stroke="#1e2a1e" stroke-width="1.8"/>
<rect x="408.8" y="621.5" width="6.4" height="11.4" rx="3" fill="#eee" stroke="#1e2a1e" stroke-width="1.8"/>
<rect x="420.1" y="552.5" width="6.4" height="11" rx="3" fill="#eee" stroke="#1e2a1e" stroke-width="1.8"/>
<rect x="420.1" y="621.5" width="6.4" height="11.4" rx="3" fill="#eee" stroke="#1e2a1e" stroke-width="1.8"/>
<rect x="359" y="567.5" width="11.5" height="6" rx="3" fill="#eee" stroke="#1e2a1e" stroke-width="1.8"/>
<rect x="430.5" y="567.5" width="11.3" height="6" rx="3" fill="#eee" stroke="#1e2a1e" stroke-width="1.8"/>
<rect x="359" y="577.6" width="11.5" height="6" rx="3" fill="#eee" stroke="#1e2a1e" stroke-width="1.8"/>
<rect x="430.5" y="577.6" width="11.3" height="6" rx="3" fill="#eee" stroke="#1e2a1e" stroke-width="1.8"/>
<rect x="359" y="589.5" width="11.5" height="6" rx="3" fill="#eee" stroke="#1e2a1e" stroke-width="1.8"/>
<rect x="430.5" y="589.5" width="11.3" height="6" rx="3" fill="#eee" stroke="#1e2a1e" stroke-width="1.8"/>
<rect x="359" y="600.2" width="11.5" height="6" rx="3" fill="#eee" stroke="#1e2a1e" stroke-width="1.8"/>
<rect x="430.5" y="600.2" width="11.3" height="6" rx="3" fill="#eee" stroke="#1e2a1e" stroke-width="1.8"/>
<rect x="359" y="610.9" width="11.5" height="6" rx="3" fill="#eee" stroke="#1e2a1e" stroke-width="1.8"/>
<rect x="430.5" y="610.9" width="11.3" height="6" rx="3" fill="#eee" stroke="#1e2a1e" stroke-width="1.8"/>
<rect x="368.6" y="561.6" width="63.6" height="61.8" rx="2" fill="#78c86a" stroke="#1e2a1e" stroke-width="2.4"/>
<rect x="377" y="569.3" width="46.3" height="45.8" fill="#a4dc94" stroke="#1e2a1e" stroke-width="2"/>
<rect x="469.5" y="551.5" width="66.5" height="82" rx="4" fill="#a2a2a2" stroke="#1e1e1e" stroke-width="2.4"/>
<circle cx="476" cy="558" r="1.8" fill="#333"/>
<circle cx="528.3" cy="558" r="1.8" fill="#333"/>
<circle cx="476" cy="627" r="1.8" fill="#333"/>
<circle cx="528.3" cy="627" r="1.8" fill="#333"/>
<circle cx="502.8" cy="584.2" r="25" fill="#e6e6e6" stroke="#1e1e1e" stroke-width="2.2"/>
<circle cx="502.8" cy="584.2" r="7" fill="#9a9a9a" stroke="#1e1e1e" stroke-width="2"/>
<polygon points="500.0,598.0 478.5,613.5 481.0,620.0 491.5,621.5" fill="#d8d8d8" stroke="#1e1e1e" stroke-width="1.8" stroke-linejoin="round"/>
<circle cx="637.3" cy="522.1" r="16.3" fill="none" stroke="#2a2414" stroke-width="7.6"/>
<circle cx="637.3" cy="522.1" r="16.3" fill="none" stroke="#ead48a" stroke-width="4.8"/>
<path d="M632.3 528 L644.5 515.8" stroke="#1a1a1a" stroke-width="2.6" stroke-linecap="round"/>
<path d="M645 585 L645 565 C645 548 680 548 680 565 L680 585" fill="none" stroke="#1e1e1e" stroke-width="11.5"/>
<path d="M645 585 L645 565 C645 548 680 548 680 565 L680 585" fill="none" stroke="#b4b4b6" stroke-width="7"/>
<rect x="632.7" y="584.2" width="61.2" height="47.5" rx="3.5" fill="#f2d152" stroke="#1e1e1e" stroke-width="2.6"/>
<path d="M662.4 596.6 C656 596.6 656 606 659.5 607 L657.5 619.5 L667.5 619.5 L665.3 607 C668.8 606 668.8 596.6 662.4 596.6 Z" fill="#77777c" stroke="#1e1e1e" stroke-width="1.8" stroke-linejoin="round"/>
<rect x="720.3" y="558.5" width="89.3" height="59.5" rx="1.5" fill="#a6d88e" stroke="#2a4a2a" stroke-width="2.4"/>
<path d="M732.2 563.8 L798.2 563.8 A5.5 5.5 0 0 0 803.7 569.3 L803.7 607.2 A5.5 5.5 0 0 0 798.2 612.7 L732.2 612.7 A5.5 5.5 0 0 0 726.7 607.2 L726.7 569.3 A5.5 5.5 0 0 0 732.2 563.8 Z" fill="#f9f9f6" stroke="#2a4a2a" stroke-width="1.8"/>
<text x="744.2" y="579.2" font-size="10.5" fill="#1e1e1e" textLength="41" lengthAdjust="spacingAndGlyphs" font-weight="bold">INSUROTT</text>
<line x1="736.8" y1="585" x2="794.2" y2="585" stroke="#444" stroke-width="1.6"/>
<line x1="736.8" y1="590.4" x2="768.1" y2="590.4" stroke="#444" stroke-width="1.6"/>
<path d="M738 603 C740 600 742 597 744 597 C745 599 743 602 746 601 C749 600 752 602 755 601 L761.8 601" stroke="#222" stroke-width="1.3" fill="none" stroke-linecap="round"/>
<path d="M775.5 608 L775.5 630.5 L781 625.5 L786.5 630.5 L792 630.5 L792 608 Z" fill="#e86e72" stroke="#2a1e1e" stroke-width="1.8" stroke-linejoin="round"/>
<polygon points="794.7,603.1 793.1,605.3 793.6,608.0 791.2,609.2 790.5,611.9 787.8,611.9 786.0,614.0 783.5,612.9 781.0,614.0 779.2,611.9 776.5,611.9 775.8,609.2 773.4,608.0 773.9,605.3 772.3,603.1 773.9,600.9 773.4,598.2 775.8,597.0 776.5,594.3 779.2,594.3 781.0,592.2 783.5,593.3 786.0,592.2 787.8,594.3 790.5,594.3 791.2,597.0 793.6,598.2 793.1,600.9" fill="#efd68a" stroke="#3a2e14" stroke-width="1.6" stroke-linejoin="round"/>
<circle cx="783.5" cy="603.1" r="6.8" fill="#f3d24e" stroke="#3a2e14" stroke-width="1.4"/>
<g transform="translate(902.2,589) rotate(134.3)">
<polygon points="9.1,5.0 59.3,5.0 61.3,2.0 60.3,-5.0 57.3,-5.0 55.8,-8.5 52.8,-8.5 50.8,-5.0 49.8,-5.0 48.3,-8.5 45.3,-8.5 43.3,-5.0 42.3,-5.0 40.8,-8.5 37.8,-8.5 35.8,-5.0 34.8,-5.0 33.3,-8.5 30.3,-8.5 28.3,-5.0 9.1,-5.0" fill="#f2cf58" stroke="#1e1a10" stroke-width="2" stroke-linejoin="round"/>
<line x1="15" y1="1.5" x2="55.31109198179399" y2="1.5" stroke="#2a2410" stroke-width="1.3"/>
</g>
<circle cx="902.2" cy="589" r="13" fill="#f2cf58" stroke="#1e1a10" stroke-width="2.2"/>
<circle cx="901.6" cy="589" r="4.2" fill="#f9f9f6" stroke="#1e1a10" stroke-width="2"/>
<g transform="translate(877.8,571.7) rotate(132.8)">
<polygon points="14.3,5.5 65.2,5.5 67.2,2.5 66.2,-5.5 63.2,-5.5 61.7,-9.0 58.7,-9.0 56.7,-5.5 55.7,-5.5 54.2,-9.0 51.2,-9.0 49.2,-5.5 48.2,-5.5 46.7,-9.0 43.7,-9.0 41.7,-5.5 40.7,-5.5 39.2,-9.0 36.2,-9.0 34.2,-5.5 14.3,-5.5" fill="#f2cf58" stroke="#1e1a10" stroke-width="2" stroke-linejoin="round"/>
<line x1="22.5" y1="1.5" x2="61.223359035382856" y2="1.5" stroke="#2a2410" stroke-width="1.3"/>
</g>
<circle cx="877.8" cy="571.7" r="20.5" fill="#f2cf58" stroke="#1e1a10" stroke-width="2.2"/>
<circle cx="882.6" cy="567" r="5.2" fill="#f9f9f6" stroke="#1e1a10" stroke-width="2"/>
</svg>
</body></html>
